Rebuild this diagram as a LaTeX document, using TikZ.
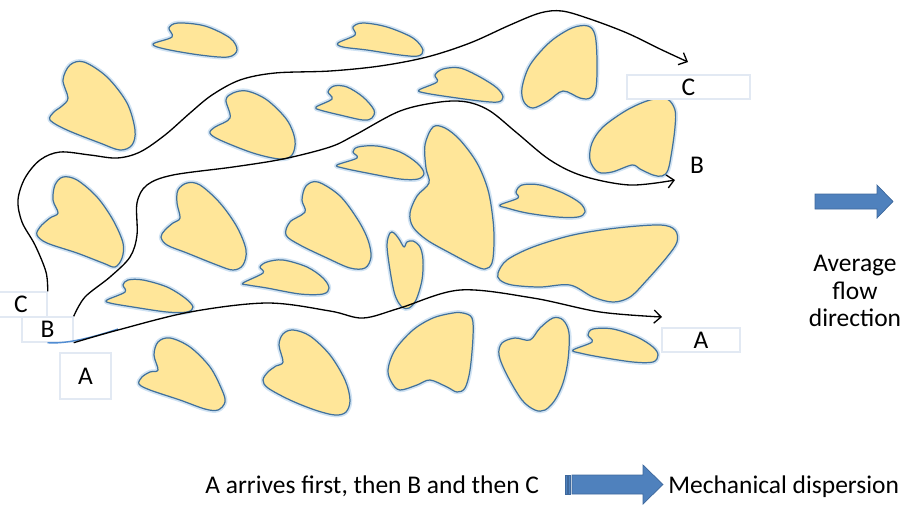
\documentclass[tikz,border=0pt]{standalone}
\usepackage{fontspec}
\setmainfont{Carlito}
\usetikzlibrary{arrows.meta}

\definecolor{grainfill}{RGB}{255,230,153}
\definecolor{grainedge}{RGB}{65,113,156}
\definecolor{grainglow}{RGB}{189,215,238}
\definecolor{arrowblue}{RGB}{79,129,189}
\definecolor{arrowedge}{RGB}{62,104,156}
\definecolor{boxline}{RGB}{226,233,243}
\definecolor{tracecurve}{RGB}{80,140,210}

\tikzset{
  glowline/.style={draw=grainglow, line width=2.6pt, line join=round, opacity=0.7},
  grainbody/.style={fill=grainfill, draw=grainedge, line width=0.7pt, line join=round},
  route/.style={draw=black, line width=0.75pt, -{Straight Barb[length=4pt,width=7.5pt]}},
  labeltext/.style={font=\fontsize{14.5pt}{15.6pt}\selectfont},
  lbl/.style={labeltext, fill=white, draw=boxline, line width=0.8pt, inner sep=0pt},
  plain/.style={labeltext, inner sep=0pt},
  blockarrow/.style={fill=arrowblue, draw=arrowedge, line width=0.4pt, line join=miter}
}

% one sand grain: soft halo, then the filled outline
\newcommand\grain[1]{%
  \draw[glowline] plot[smooth cycle, tension=0.55] coordinates {#1};
  \path[grainbody] plot[smooth cycle, tension=0.55] coordinates {#1};
}

\begin{document}
\begin{tikzpicture}[x=0.02cm, y=-0.02cm]
\useasboundingbox (0,0) rectangle (914,512);

% ---- grains ----
\grain{(153,44) (172,37) (169,28) (178,23) (205,26) (230,38) (237,50) (228,57) (200,55) (165,49)}
\grain{(338,43) (355,35) (353,27) (363,23) (387,27) (413,38) (423,50) (418,56) (400,55) (367,50) (343,47)}
\grain{(68,98) (63,80) (70,65) (84,62) (107,77) (127,103) (135,130) (132,145) (120,150) (100,143) (67,130) (50,120) (54,112) (62,106)}
\grain{(230,118) (226,100) (233,93) (247,91) (267,100) (287,120) (295,140) (292,155) (280,159) (253,153) (220,140) (210,133) (215,127)}
\grain{(419,90) (437,82) (435,75) (443,69) (460,68) (480,77) (497,88) (503,97) (498,102) (480,101) (450,97) (425,93)}
\grain{(316,107) (332,99) (328,92) (334,86) (347,87) (363,97) (374,110) (372,118) (363,120) (340,115) (320,110)}
\grain{(563,91) (548,101) (533,108) (524,102) (522,88) (530,65) (550,42) (572,28) (588,26) (595,35) (597,60) (596,88) (590,98) (580,98)}
\grain{(632,165) (612,172) (598,172) (590,160) (592,143) (603,127) (627,110) (650,100) (667,99) (675,110) (675,127) (672,150) (668,170) (662,176) (653,175) (640,169)}
\grain{(337,165) (357,158) (353,152) (358,147) (377,146) (400,152) (417,163) (424,173) (418,179) (400,179) (367,173) (343,168)}
\grain{(500,205) (518,198) (516,192) (522,185) (540,185) (563,193) (580,203) (585,212) (578,217) (557,217) (527,213) (507,208)}
\grain{(243,283) (263,273) (260,267) (267,262) (283,260) (307,267) (323,278) (329,288) (323,294) (300,294) (267,288) (248,285)}
\grain{(107,300) (125,292) (123,285) (128,280) (143,280) (167,287) (185,298) (193,307) (187,312) (167,312) (133,307) (110,303)}
\grain{(573,350) (592,342) (588,335) (593,329) (613,329) (637,337) (653,347) (658,355) (653,362) (633,362) (600,357) (580,353)}
\grain{(433,127) (425,145) (426,168) (429,183) (417,196) (410,213) (413,227) (427,240) (450,253) (473,265) (485,269) (492,263) (494,243) (493,220) (488,190) (477,163) (460,140) (445,128)}
\grain{(390,233) (387,245) (390,270) (395,295) (402,307) (409,308) (416,300) (422,280) (423,260) (420,247) (413,241) (407,242) (404,247) (399,239) (394,233)}
\grain{(498,273) (507,260) (533,247) (573,235) (617,228) (660,225) (675,230) (677,242) (667,257) (647,280) (630,297) (613,302) (593,297) (570,285) (540,287) (512,285) (500,280)}
\grain{(305,212) (302,200) (306,186) (318,182) (340,196) (358,220) (368,240) (371,257) (365,268) (350,268) (327,258) (300,245) (286,235) (290,222)}
\grain{(58,213) (53,200) (55,185) (63,177) (77,180) (97,197) (113,220) (123,243) (122,258) (115,267) (103,263) (77,253) (47,243) (37,235) (40,227) (50,218)}
\grain{(180,218) (177,203) (178,190) (187,183) (200,185) (220,203) (237,227) (246,250) (243,265) (233,270) (217,265) (187,253) (167,245) (161,237) (165,230) (173,223)}
\grain{(158,370) (154,355) (158,342) (170,338) (190,347) (210,367) (222,390) (225,402) (218,410) (205,409) (180,400) (150,390) (139,384) (142,377) (150,372)}
\grain{(283,362) (279,345) (283,334) (293,330) (310,336) (330,355) (345,380) (350,400) (346,412) (335,415) (315,410) (290,400) (268,388) (263,380) (268,372) (276,366)}
\grain{(463,313) (472,318) (473,337) (470,370) (465,388) (457,392) (447,387) (430,380) (417,385) (400,390) (392,383) (388,370) (395,350) (413,330) (433,318) (453,313)}
\grain{(530,340) (540,328) (553,318) (563,320) (569,333) (568,360) (563,383) (555,400) (545,410) (535,410) (522,400) (507,375) (499,355) (502,343) (515,338)}

% ---- start and finish labels ----
\node[lbl, minimum width=1.04cm, minimum height=0.5cm] (Cl) at (21,304.5) {C};
\node[lbl, minimum width=1.02cm, minimum height=0.5cm] (Bl) at (47.5,329.5) {B};
\node[lbl, minimum width=1.02cm, minimum height=0.92cm] (Al) at (85.5,376) {A};
\node[lbl, minimum width=2.46cm, minimum height=0.48cm] (Cr) at (688.5,87) {C};
\node[plain] (Br) at (697,165) {B};
\node[lbl, minimum width=1.56cm, minimum height=0.48cm] (Ar) at (701,340) {A};

\coordinate (cTip) at (688,62);
\coordinate (bTip) at (675,180);
\coordinate (aTip) at (662,317);
\coordinate (traceEnd) at (118,329);

% ---- flow paths ----
\draw[tracecurve, line width=0.8pt] (Bl.south) .. controls (62,344) and (85,340) .. (traceEnd);
\draw[route] plot[smooth, tension=0.55] coordinates {(Cl.north east) (46,272) (35,245) (22,222) (18,200) (25,178) (40,160) (60,152) (90,155) (117,158) (140,152) (165,135) (190,113) (212,95) (240,80) (275,73) (330,71) (380,66) (427,57) (470,43) (510,25) (540,13) (562,11) (590,19) (627,33) (660,49) (cTip)};
\draw[route] plot[smooth, tension=0.55] coordinates {(Bl.north east) (85,297) (110,277) (130,257) (137,235) (137,203) (147,185) (173,175) (233,167) (283,159) (330,147) (355,135) (400,111) (440,102) (467,102) (490,111) (517,133) (550,160) (583,176) (630,185) (bTip)};
\draw[route] plot[smooth, tension=0.55] coordinates {(Bl.south east) (118,330) (190,312) (267,303) (330,311) (363,318) (400,308) (460,290) (533,298) (600,312) (aTip)};

% ---- flow direction ----
\draw[blockarrow] (815,194) -- (877,194) -- (877,185) -- (893,201.5) -- (877,218) -- (877,209) -- (815,209) -- cycle;
\node[plain, align=center] (avg) at (855,291) {Average\\flow\\direction};

% ---- summary line ----
\node[plain, anchor=base west] (order) at (205,493) {A arrives first, then B and then C};
\node[plain, anchor=base west] (mech) at (668,493) {Mechanical dispersion};
\path[blockarrow] (565,475) rectangle (567,494);
\path[blockarrow] (568.5,475) rectangle (570,494);
\path[blockarrow] (572,475) -- (643,475) -- (643,465) -- (663,484.5) -- (643,504) -- (643,494) -- (572,494) -- cycle;
\end{tikzpicture}
\end{document}
